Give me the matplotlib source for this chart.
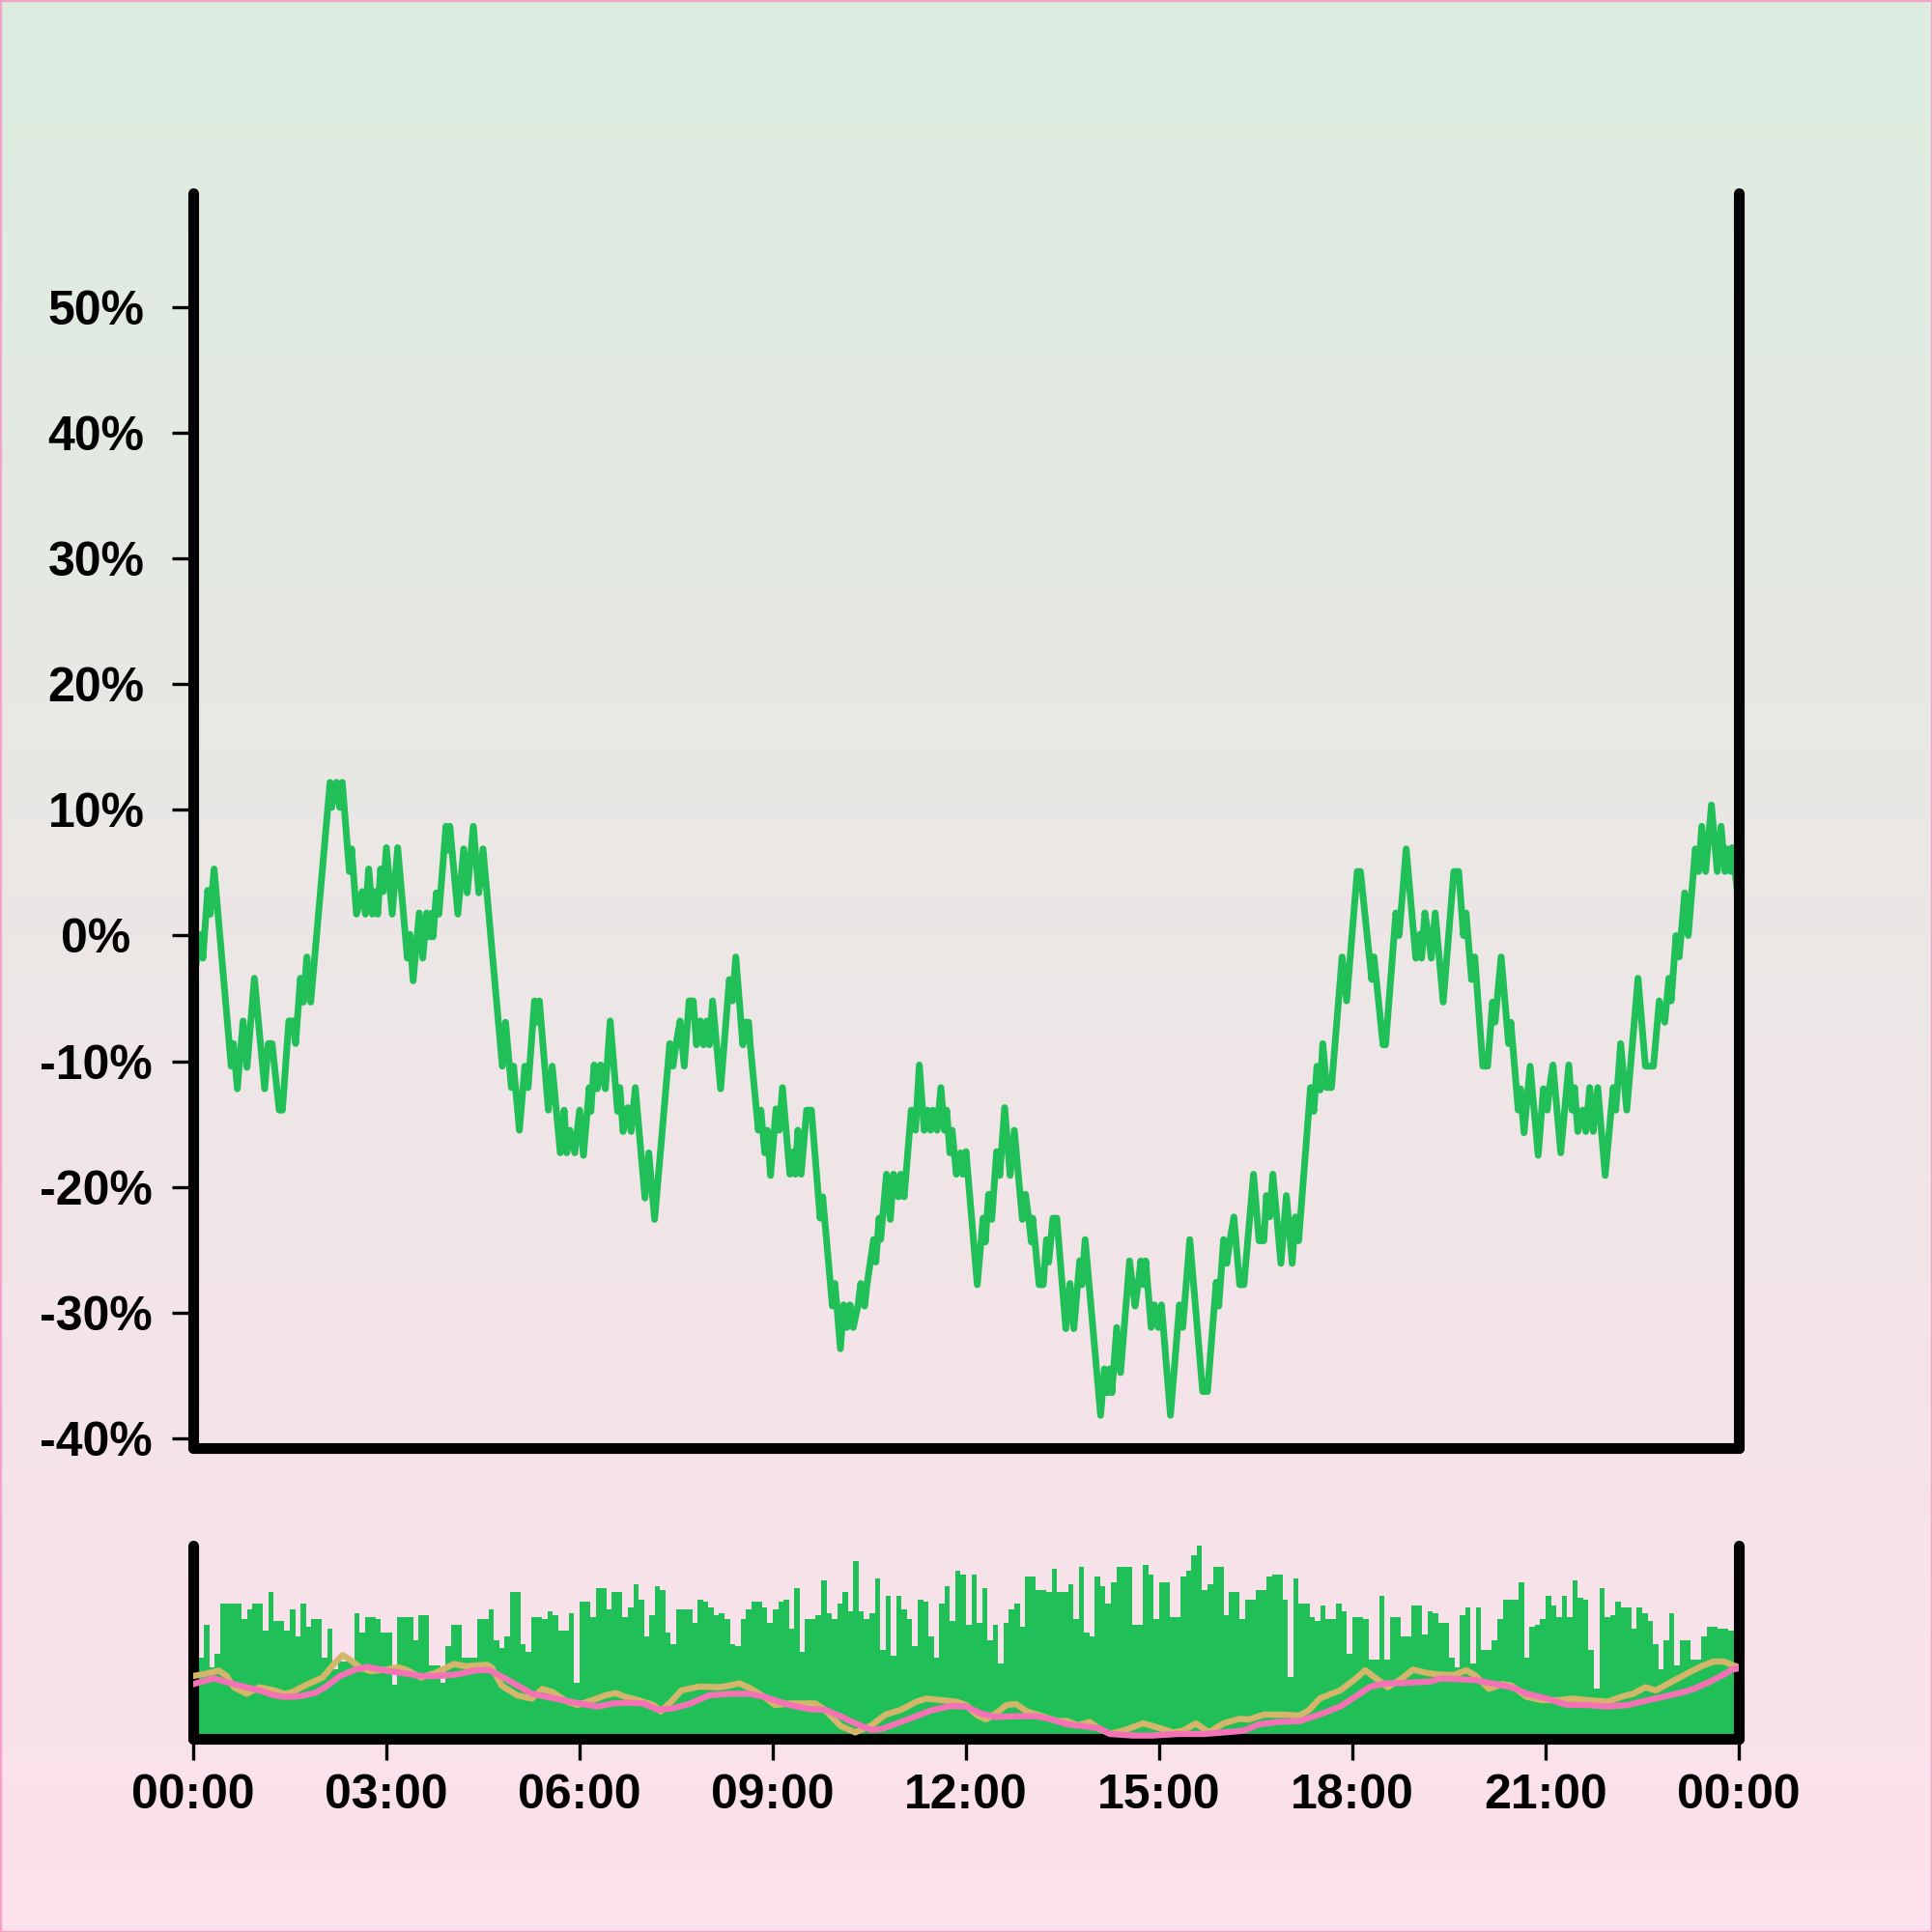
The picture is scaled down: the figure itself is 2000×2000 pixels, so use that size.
import numpy as np
import matplotlib
matplotlib.use("Agg")
import matplotlib.pyplot as plt
from matplotlib.colors import LinearSegmentedColormap
from matplotlib.patches import Rectangle

plt.rcParams['font.family'] = ['Liberation Sans', 'DejaVu Sans']

# ---------------- data ----------------
# price change (%) : time of day in hours, value in percent
price_t_h = [0.00, 0.125, 0.15, 0.225, 0.265, 0.325, 0.59, 0.625, 0.685, 0.775, 0.835, 0.95, 1.11, 1.165, 1.225,
             1.335, 1.385, 1.485, 1.55, 1.59, 1.665, 1.71, 1.765, 1.825, 2.125, 2.15, 2.225, 2.275, 2.315, 2.425,
             2.46, 2.535, 2.625, 2.675, 2.725, 2.785, 2.825, 2.865, 2.91, 2.95, 3.0, 3.09, 3.175, 3.325, 3.365,
             3.415, 3.51, 3.565, 3.625, 3.675, 3.71, 3.725, 3.775, 3.815, 3.925, 3.96, 3.985, 4.11, 4.2, 4.255,
             4.35, 4.435, 4.5, 4.8, 4.85, 4.94, 4.975, 5.065, 5.15, 5.2, 5.3, 5.335, 5.375, 5.515, 5.575,
             5.7, 5.76, 5.8, 5.85, 5.925, 6.0, 6.06, 6.15, 6.175, 6.225, 6.275, 6.325, 6.4, 6.475, 6.59,
             6.625, 6.675, 6.75, 6.8, 6.865, 7.015, 7.075, 7.165, 7.4, 7.45, 7.5, 7.56, 7.625, 7.7, 7.765,
             7.815, 7.875, 7.925, 7.975, 8.015, 8.065, 8.19, 8.325, 8.375, 8.425, 8.535, 8.565, 8.625, 8.65, 8.775,
             8.815, 8.875, 8.915, 8.965, 9.05, 9.1, 9.15, 9.265, 9.325, 9.35, 9.39, 9.44, 9.525, 9.6, 9.735,
             9.775, 9.925, 9.965, 10.05, 10.1, 10.15, 10.2, 10.25, 10.325, 10.365, 10.425, 10.465, 10.565, 10.6, 10.65,
             10.675, 10.765, 10.825, 10.875, 10.95, 10.985, 11.04, 11.15, 11.215, 11.275, 11.35, 11.4, 11.45, 11.485, 11.55,
             11.61, 11.665, 11.7, 11.75, 11.785, 11.85, 11.915, 11.95, 12.0, 12.175, 12.265, 12.3, 12.35, 12.4, 12.475,
             12.525, 12.6, 12.685, 12.75, 12.875, 12.925, 12.975, 13.015, 13.035, 13.135, 13.2, 13.25, 13.285, 13.35, 13.41,
             13.55, 13.615, 13.675, 13.765, 13.8, 13.85, 14.09, 14.15, 14.2, 14.235, 14.265, 14.34, 14.4, 14.54, 14.625,
             14.675, 14.715, 14.76, 14.79, 14.875, 14.925, 14.985, 15.035, 15.175, 15.315, 15.365, 15.475, 15.675, 15.75, 15.885,
             15.925, 16.0, 16.05, 16.1, 16.16, 16.25, 16.315, 16.465, 16.55, 16.625, 16.665, 16.715, 16.765, 16.89, 16.975,
             17.065, 17.115, 17.165, 17.35, 17.4, 17.45, 17.5, 17.54, 17.6, 17.675, 17.84, 17.91, 18.075, 18.125, 18.3,
             18.335, 18.475, 18.515, 18.675, 18.725, 18.835, 18.985, 19.05, 19.075, 19.125, 19.175, 19.225, 19.285, 19.41, 19.575,
             19.65, 19.725, 19.765, 19.85, 19.9, 20.025, 20.1, 20.175, 20.215, 20.31, 20.425, 20.46, 20.575, 20.61, 20.665,
             20.76, 20.885, 20.965, 21.025, 21.06, 21.115, 21.235, 21.36, 21.41, 21.45, 21.5, 21.575, 21.625, 21.685, 21.74,
             21.81, 21.925, 22.05, 22.09, 22.165, 22.26, 22.435, 22.55, 22.675, 22.765, 22.85, 22.915, 22.95, 23.025, 23.075,
             23.16, 23.215, 23.325, 23.375, 23.425, 23.485, 23.575, 23.665, 23.725, 23.785, 23.825, 23.875, 23.9, 24.0]
price_pct = [-3.6, 0.1, -1.8, 3.6, 1.7, 5.3, -10.4, -8.6, -12.2, -6.8, -10.5, -3.4, -12.2, -8.6, -8.6,
             -13.9, -13.9, -6.8, -6.8, -8.6, -3.4, -5.3, -1.7, -5.3, 12.2, 10.2, 12.2, 10.2, 12.2, 5.1,
             6.9, 1.7, 3.5, 1.7, 5.3, 1.7, 3.5, 1.7, 5.3, 3.5, 7.0, 1.7, 7.0, -1.8, 0.1,
             -3.6, 1.8, -1.8, 1.8, -0.1, 1.8, -0.1, 3.4, 1.7, 8.7, 6.8, 8.7, 1.7, 6.9, 3.4,
             8.7, 3.4, 6.9, -10.4, -6.9, -12.1, -10.4, -15.5, -10.4, -12.1, -5.2, -6.9, -5.2, -13.9, -10.4,
             -17.3, -13.9, -17.3, -15.5, -17.3, -13.9, -17.5, -12.1, -14.0, -10.3, -12.2, -10.3, -12.2, -6.8, -14.0,
             -12.1, -15.6, -13.7, -15.6, -12.1, -20.9, -17.3, -22.6, -8.6, -10.4, -8.6, -6.8, -10.4, -5.2, -5.2,
             -8.7, -6.8, -8.7, -6.8, -8.7, -5.2, -12.2, -3.5, -5.2, -1.7, -8.7, -6.9, -6.9, -8.7, -15.5,
             -13.9, -17.3, -15.5, -19.1, -13.8, -15.5, -12.1, -19.0, -17.2, -19.0, -15.5, -19.0, -13.9, -13.9, -22.5,
             -20.8, -29.5, -27.7, -32.9, -29.4, -31.2, -29.4, -31.2, -29.4, -27.7, -29.5, -27.7, -24.2, -26.0, -22.5,
             -24.2, -19.0, -22.6, -19.0, -20.8, -19.0, -20.8, -13.9, -15.5, -10.3, -15.5, -13.9, -15.5, -13.9, -15.5,
             -12.1, -15.5, -13.9, -17.3, -15.5, -19.0, -17.3, -19.0, -17.2, -27.8, -22.5, -24.4, -20.6, -22.6, -17.2,
             -19.1, -13.7, -19.1, -15.5, -22.6, -20.6, -22.6, -24.4, -22.5, -27.8, -27.8, -24.2, -26.0, -22.5, -22.5,
             -31.3, -27.7, -31.3, -25.9, -27.8, -24.2, -38.2, -34.5, -36.4, -34.5, -36.4, -31.2, -34.8, -25.9, -29.5,
             -27.7, -25.9, -27.8, -25.9, -31.2, -29.4, -31.2, -29.4, -38.2, -29.4, -31.2, -24.2, -36.3, -36.3, -27.6,
             -29.5, -24.2, -26.1, -24.2, -22.4, -27.8, -27.8, -19.0, -24.3, -24.3, -20.7, -22.4, -19.0, -26.1, -20.7,
             -26.1, -22.4, -24.3, -12.1, -14.0, -10.4, -12.3, -8.6, -12.1, -12.1, -1.7, -5.2, 5.1, 5.1, -3.5,
             -1.7, -8.7, -8.7, 1.8, 0.0, 6.9, -1.8, 0.1, -1.8, 1.8, 0.1, -1.8, 1.8, -5.3, 5.1,
             5.1, 0.0, 1.8, -3.5, -1.7, -10.4, -10.4, -5.3, -6.9, -1.7, -8.6, -6.9, -13.9, -12.2, -15.7,
             -10.4, -17.5, -12.2, -13.9, -12.1, -10.3, -17.3, -10.3, -13.9, -12.1, -15.6, -13.9, -15.6, -12.1, -15.6,
             -12.1, -19.1, -12.1, -13.9, -8.6, -13.9, -3.4, -10.4, -10.4, -5.2, -6.9, -3.4, -5.2, 0.0, -1.7,
             3.4, 0.0, 6.9, 5.1, 8.7, 5.1, 10.4, 5.1, 8.7, 5.1, 6.9, 5.1, 7.0, 2.5]

# volume per 5-minute interval (relative units, 288 bars)
volume = [42, 42, 59, 37, 44, 70, 70, 70, 70, 62, 67, 70, 70, 56, 76, 61, 61, 56, 67, 53,
          70, 58, 62, 62, 42, 57, 36, 40, 40, 40, 65, 55, 63, 63, 62, 55, 55, 28, 63, 63,
          63, 51, 64, 64, 38, 38, 29, 48, 59, 59, 42, 42, 42, 62, 62, 67, 51, 47, 53, 76,
          76, 49, 45, 63, 63, 62, 66, 64, 56, 56, 65, 29, 71, 71, 63, 78, 78, 67, 76, 76,
          63, 68, 80, 72, 53, 64, 79, 77, 55, 49, 67, 67, 67, 60, 72, 71, 68, 64, 65, 62,
          49, 48, 62, 67, 71, 71, 68, 60, 67, 71, 72, 57, 78, 45, 62, 62, 64, 82, 65, 62,
          70, 76, 66, 92, 66, 62, 65, 83, 46, 74, 43, 74, 67, 62, 48, 72, 71, 53, 42, 70,
          79, 61, 87, 85, 59, 85, 60, 78, 51, 59, 39, 60, 67, 70, 58, 84, 84, 77, 77, 76,
          88, 76, 76, 80, 62, 89, 55, 53, 84, 79, 70, 81, 89, 89, 89, 59, 59, 90, 85, 62,
          81, 81, 63, 63, 84, 87, 95, 100, 77, 80, 89, 89, 64, 76, 76, 62, 72, 72, 77, 77,
          84, 85, 85, 72, 32, 83, 70, 70, 63, 61, 69, 62, 62, 70, 66, 44, 63, 63, 62, 41,
          41, 74, 41, 63, 63, 53, 53, 69, 69, 54, 66, 65, 60, 60, 42, 37, 64, 68, 39, 68,
          46, 46, 51, 62, 72, 72, 72, 81, 42, 58, 59, 62, 74, 69, 63, 74, 63, 82, 73, 72,
          46, 26, 78, 63, 64, 71, 68, 68, 57, 68, 65, 61, 49, 36, 51, 65, 38, 51, 51, 41,
          41, 53, 58, 58, 57, 57, 56, 56]

# moving averages of the price, shown in the lower panel (panel units 0-100)
ma_fast_t = [0.0, 0.20, 0.40, 0.52, 0.63, 0.83, 1.03, 1.26, 1.42, 1.54, 1.73, 2.01, 2.20, 2.32, 2.44, 2.60,
             2.75, 2.99, 3.18, 3.30, 3.54, 3.77, 4.05, 4.24, 4.40, 4.56, 4.64, 4.79, 5.03, 5.26, 5.42, 5.58,
             5.81, 5.97, 6.20, 6.40, 6.56, 6.71, 6.91, 7.15, 7.26, 7.42, 7.58, 7.85, 8.17, 8.32, 8.48, 8.64,
             8.87, 9.03, 9.26, 9.50, 9.66, 9.81, 10.05, 10.28, 10.52, 10.75, 10.99, 11.23, 11.38, 11.62, 11.85,
             12.00, 12.16, 12.31, 12.47, 12.63, 12.78, 12.94, 13.18, 13.41, 13.57, 13.73, 13.92, 14.08, 14.24,
             14.51, 14.75, 14.98, 15.22, 15.37, 15.57, 15.77, 16.00, 16.24, 16.39, 16.63, 16.94, 17.18, 17.33,
             17.49, 17.65, 17.81, 18.04, 18.20, 18.35, 18.55, 18.75, 18.94, 19.14, 19.33, 19.57, 19.77, 19.92,
             20.12, 20.32, 20.47, 20.71, 20.94, 21.22, 21.41, 21.65, 21.96, 22.20, 22.36, 22.55, 22.71, 22.94,
             23.22, 23.45, 23.61, 23.77, 23.89, 24.0]
ma_fast = [32.5, 33.7, 35.3, 32.5, 26.7, 23.3, 26.7, 25.0, 23.3, 24.2, 27.5, 31.7, 39.2, 43.3, 40.8, 36.7,
           35.0, 35.8, 37.0, 35.8, 31.7, 34.2, 38.7, 37.5, 38.0, 38.3, 36.7, 27.5, 22.5, 20.8, 25.8, 24.2,
           19.2, 17.5, 20.0, 22.5, 23.7, 21.7, 20.0, 17.5, 14.2, 19.2, 25.0, 27.0, 26.7, 27.5, 28.7, 26.3,
           21.7, 17.5, 18.3, 18.3, 18.3, 15.0, 6.7, 3.3, 6.7, 12.5, 15.0, 19.2, 20.8, 20.0, 19.2,
           17.5, 12.5, 10.0, 13.3, 17.5, 18.0, 14.2, 11.7, 9.2, 9.2, 7.0, 8.7, 5.0, 2.5,
           5.0, 8.0, 5.8, 3.3, 4.2, 8.0, 3.3, 8.0, 10.3, 10.0, 12.5, 12.5, 12.0, 15.0,
           20.8, 23.0, 25.0, 30.8, 35.5, 31.7, 26.7, 30.8, 35.8, 34.2, 33.3, 33.0, 35.5, 32.5,
           25.8, 28.3, 27.5, 21.7, 20.0, 20.0, 20.8, 20.0, 19.2, 22.0, 23.3, 26.7, 25.0, 29.2,
           34.2, 38.0, 40.0, 40.0, 38.3, 37.0]
ma_slow_t = [0.0, 0.32, 0.63, 1.03, 1.26, 1.42, 1.65, 1.89, 2.05, 2.28, 2.52, 2.71, 2.99, 3.22, 3.54, 3.77,
             4.09, 4.40, 4.60, 4.87, 5.26, 5.50, 5.81, 6.13, 6.28, 6.52, 6.75, 6.99, 7.22, 7.46, 7.70, 8.01,
             8.32, 8.64, 8.87, 9.26, 9.58, 9.81, 10.05, 10.28, 10.52, 10.68, 10.99, 11.23, 11.46, 11.77,
             12.00, 12.24, 12.47, 12.78, 13.10, 13.33, 13.57, 13.88, 14.08, 14.24, 14.59, 14.90, 15.29, 15.69,
             16.00, 16.31, 16.55, 16.86, 17.18, 17.49, 17.81, 18.04, 18.28, 18.51, 18.75, 18.98, 19.22, 19.37,
             19.69, 19.92, 20.16, 20.47, 20.71, 21.02, 21.34, 21.65, 21.96, 22.28, 22.59, 22.83, 23.14, 23.30,
             23.53, 23.77, 23.89, 24.0]
ma_slow = [28.3, 31.3, 28.3, 25.0, 22.5, 21.7, 22.0, 23.7, 26.7, 32.5, 35.8, 37.2, 35.3, 34.2, 32.5, 32.5,
           33.3, 35.5, 35.5, 30.8, 23.3, 21.7, 19.5, 17.5, 16.7, 18.3, 18.7, 18.3, 15.0, 15.8, 18.0, 22.5,
           23.3, 23.3, 21.7, 17.5, 15.3, 15.0, 11.7, 8.0, 4.7, 5.0, 8.7, 11.7, 14.7, 17.0,
           16.7, 13.0, 11.3, 11.7, 11.7, 10.0, 7.5, 6.3, 5.3, 2.5, 1.7, 1.7, 2.5, 2.5,
           3.3, 4.2, 7.5, 8.8, 9.2, 12.5, 16.7, 21.7, 27.0, 28.7, 28.8, 29.2, 29.7, 31.2,
           30.8, 30.3, 28.7, 26.7, 23.3, 20.8, 17.5, 17.5, 16.7, 17.5, 20.0, 21.7, 24.2, 25.8,
           29.2, 33.3, 35.8, 36.5]

y_ticks = [-40, -30, -20, -10, 0, 10, 20, 30, 40, 50]
x_ticks_h = [0, 3, 6, 9, 12, 15, 18, 21, 24]
x_tick_labels = ["00:00", "03:00", "06:00", "09:00", "12:00", "15:00", "18:00", "21:00", "00:00"]

# ---------------- style ----------------
GREEN = '#21bf57'
YELLOW = '#d3b66a'
PINK = '#f472b6'
SPINE_W = 4.0

fig = plt.figure(figsize=(10, 10), dpi=200)

# gradient background
bg = fig.add_axes([0, 0, 1, 1], zorder=-10)
grad = np.linspace(0, 1, 256).reshape(-1, 1)
cmap = LinearSegmentedColormap.from_list('bg', ['#dcede0', '#fde0ec'])
bg.imshow(grad, aspect='auto', cmap=cmap, extent=[0, 1, 0, 1], origin='upper')
bg.set_axis_off()
fig.patches.append(Rectangle((0, 0), 1, 1, transform=fig.transFigure, fill=False,
                             edgecolor='#f3a3c6', linewidth=1.2))


def style_spines(ax):
    ax.spines['top'].set_visible(False)
    for s in ['left', 'right', 'bottom']:
        ax.spines[s].set_linewidth(SPINE_W)
        ax.spines[s].set_capstyle('round')
        ax.spines[s].set_color('black')


# main price axes
ax = fig.add_axes([0.1, 0.2505, 0.8, 0.6495])
ax.patch.set_alpha(0)
ax.plot(price_t_h, price_pct, color=GREEN, lw=2.5, solid_joinstyle='round')
ax.set_xlim(0, 24)
ax.set_ylim(-40.8, 59.1)
ax.set_yticks(y_ticks)
ax.set_yticklabels([f"{v}%" for v in y_ticks], fontsize=18, fontweight='bold')
for lbl in ax.get_yticklabels():
    lbl.set_horizontalalignment('center')
ax.tick_params(axis='y', length=7.8, width=1.2, pad=28.4, direction='out', right=False)
ax.tick_params(axis='x', bottom=False, labelbottom=False)
style_spines(ax)

# lower volume panel
axv = fig.add_axes([0.1, 0.1, 0.8, 0.1])
axv.patch.set_alpha(0)
bar_t = np.arange(len(volume)) * 5 / 60.0
axv.bar(bar_t, volume, width=5 / 60.0, align='edge', color=GREEN, linewidth=0)
axv.set_xlim(0, 24)
axv.set_ylim(0, 100)
axv.set_yticks([])
axv.set_xticks(x_ticks_h)
axv.set_xticklabels(x_tick_labels, fontsize=18, fontweight='bold')
axv.tick_params(axis='x', length=7.8, width=1.2, pad=5.0, direction='out')
style_spines(axv)

axm = axv.twinx()
axm.set_ylim(0, 100)
axm.set_yticks([])
for s in axm.spines.values():
    s.set_visible(False)
axm.plot(ma_fast_t, ma_fast, color=YELLOW, lw=2.3)
axm.plot(ma_slow_t, ma_slow, color=PINK, lw=2.3)

fig.savefig("out.png", dpi=200)
